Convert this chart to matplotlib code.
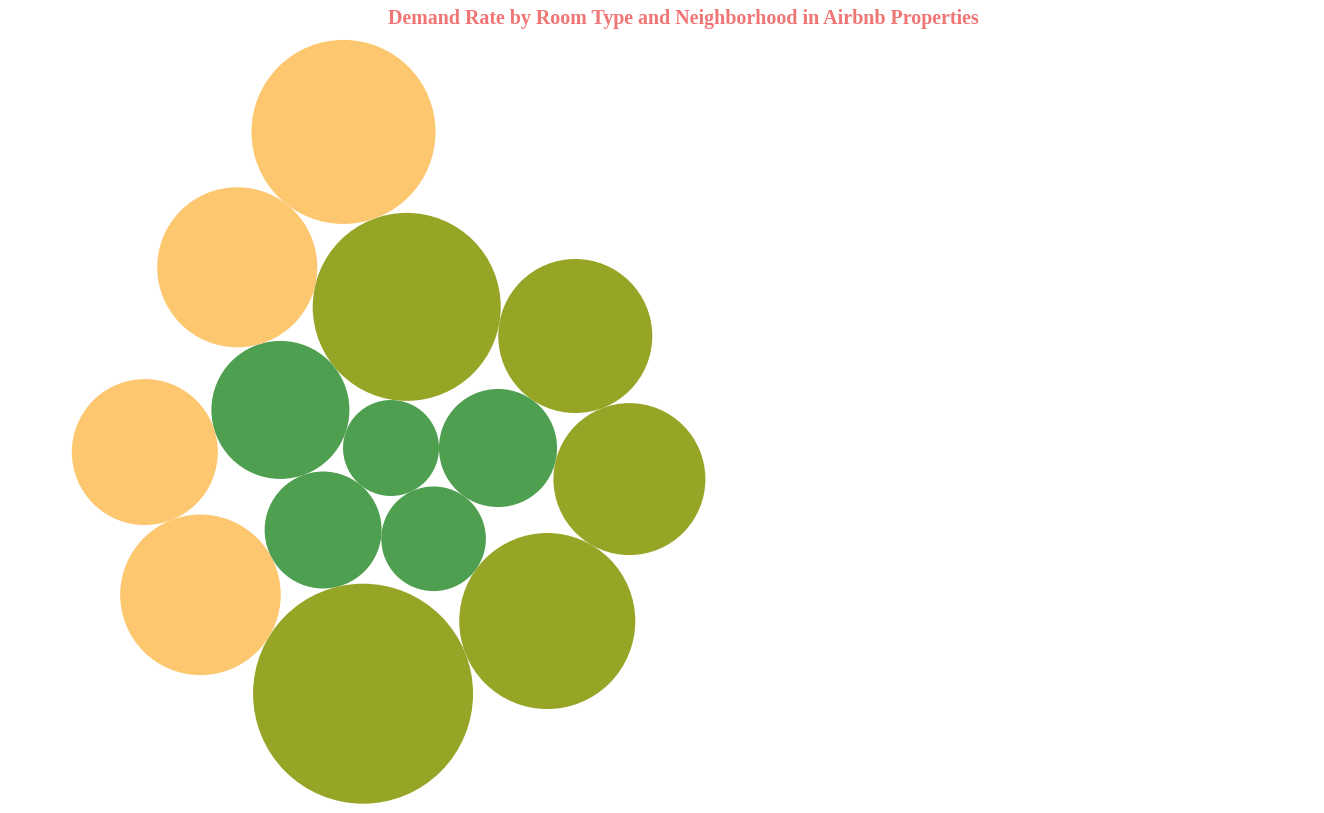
import numpy as np
import matplotlib
matplotlib.use('Agg')
import matplotlib.pyplot as plt
from matplotlib.patches import Circle

# bubbles: room type group, demand rate value
room_types = ['Shared room', 'Shared room', 'Shared room', 'Shared room', 'Shared room',
              'Private room', 'Private room', 'Private room', 'Private room', 'Private room',
              'Entire home/apt', 'Entire home/apt', 'Entire home/apt', 'Entire home/apt']
names = ['S2', 'S3', 'S5', 'S4', 'S1',
         'P1', 'P2', 'P3', 'P4', 'P5',
         'E4', 'E3', 'E2', 'E1']
demand = [17.5, 26.5, 20.8, 26.0, 36.2,
          67.2, 45.1, 43.9, 58.9, 92.0,
          49.0, 40.5, 48.7, 64.4]

colors = {'Shared room': '#4e9f50', 'Private room': '#96a526', 'Entire home/apt': '#fdc76f'}

# packing: each bubble is tangent to two earlier bubbles (indices)
anchors = [None, (0, None), (0, 1), (0, 2), (0, 3),
           (0, 4), (1, 5), (1, 6), (2, 7), (3, 8),
           (3, 9), (4, 10), (5, 4), (5, 12)]

max_r = 110
radii = [max_r * np.sqrt(v / max(demand)) for v in demand]

centers = []
for i, anc in enumerate(anchors):
    r = radii[i]
    if anc is None:
        centers.append(np.array([0.0, 0.0]))
        continue
    a, b = anc
    if b is None:
        centers.append(centers[a] + np.array([radii[a] + r, 0.0]))
        continue
    pa, pb = centers[a], centers[b]
    da, db = radii[a] + r, radii[b] + r
    d = np.linalg.norm(pb - pa)
    u = (pb - pa) / d
    n = np.array([-u[1], u[0]])
    x = (da ** 2 - db ** 2 + d ** 2) / (2 * d)
    h = np.sqrt(max(da ** 2 - x ** 2, 0))
    centers.append(pa + x * u + h * n)

fig = plt.figure(figsize=(13.24, 8.13), dpi=100)
ax = fig.add_axes([0, 0, 1, 1])
for c, r, t in zip(centers, radii, room_types):
    ax.add_patch(Circle(c, r, facecolor=colors[t], edgecolor='none'))

# screen-like coords, first bubble at (391, 448) px
ax.set_xlim(-391, 1324 - 391)
ax.set_ylim(813 - 448, -448)
ax.set_aspect('equal')
ax.axis('off')

fig.text(0.516, 1 - 19 / 813, 'Demand Rate by Room Type and Neighborhood in Airbnb Properties',
         ha='center', va='center', fontsize=14.4, fontweight='bold',
         family='Liberation Serif', color='#f07575')

fig.savefig('out.png', dpi=100)
